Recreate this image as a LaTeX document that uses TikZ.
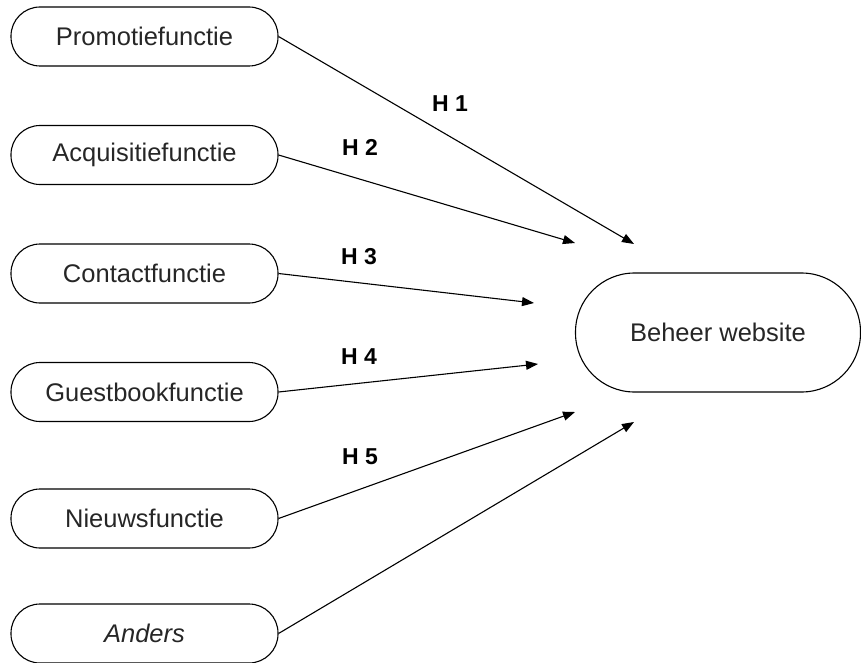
\documentclass[tikz,border=0pt]{standalone}
\usepackage{fontspec}
\setmainfont{Liberation Sans}
\usetikzlibrary{arrows.meta}
\begin{document}
\begin{tikzpicture}[x=1pt,y=-1pt,
  src/.style={draw=black, line width=1.1pt, rounded corners=29pt, minimum width=267pt, minimum height=59pt, inner sep=0pt, text=black!85, font=\fontsize{25.5}{29}\selectfont},
  target/.style={draw=black, line width=1.1pt, rounded corners=59pt, minimum width=285pt, minimum height=119pt, inner sep=0pt, text=black!85, font=\fontsize{25.5}{29}\selectfont},
  hyp/.style={font=\bfseries\fontsize{23}{27}\selectfont, inner sep=0pt},
  link/.style={line width=1.1pt, -{Triangle[length=12pt,width=9pt]}}]
\useasboundingbox (0,0) rectangle (861,663);
\node[src] (p) at (144.5,36.5) {Promotiefunctie};
\node[src] (a) at (144.5,155) {Acquisitiefunctie};
\node[src] (c) at (144.5,273.5) {Contactfunctie};
\node[src] (g) at (144.5,392) {Guestbookfunctie};
\node[src] (n) at (144.5,518.5) {Nieuwsfunctie};
\node[src] (o) at (144.5,633.5) {\itshape Anders};
\node[target] (b) at (718,332.5) {Beheer website};
\coordinate (tp) at (634,244);
\coordinate (ta) at (575,243);
\coordinate (tc) at (534,303);
\coordinate (tg) at (538,364);
\coordinate (tn) at (575,412);
\coordinate (to) at (634,422);
\draw[link] (p.east) -- (tp);
\draw[link] (a.east) -- (ta);
\draw[link] (c.east) -- (tc);
\draw[link] (g.east) -- (tg);
\draw[link] (n.east) -- (tn);
\draw[link] (o.east) -- (to);
\node[hyp] (h1) at (450,104) {H 1};
\node[hyp] (h2) at (360,147) {H 2};
\node[hyp] (h3) at (359,257) {H 3};
\node[hyp] (h4) at (359,357) {H 4};
\node[hyp] (h5) at (360,457) {H 5};
\end{tikzpicture}
\end{document}
